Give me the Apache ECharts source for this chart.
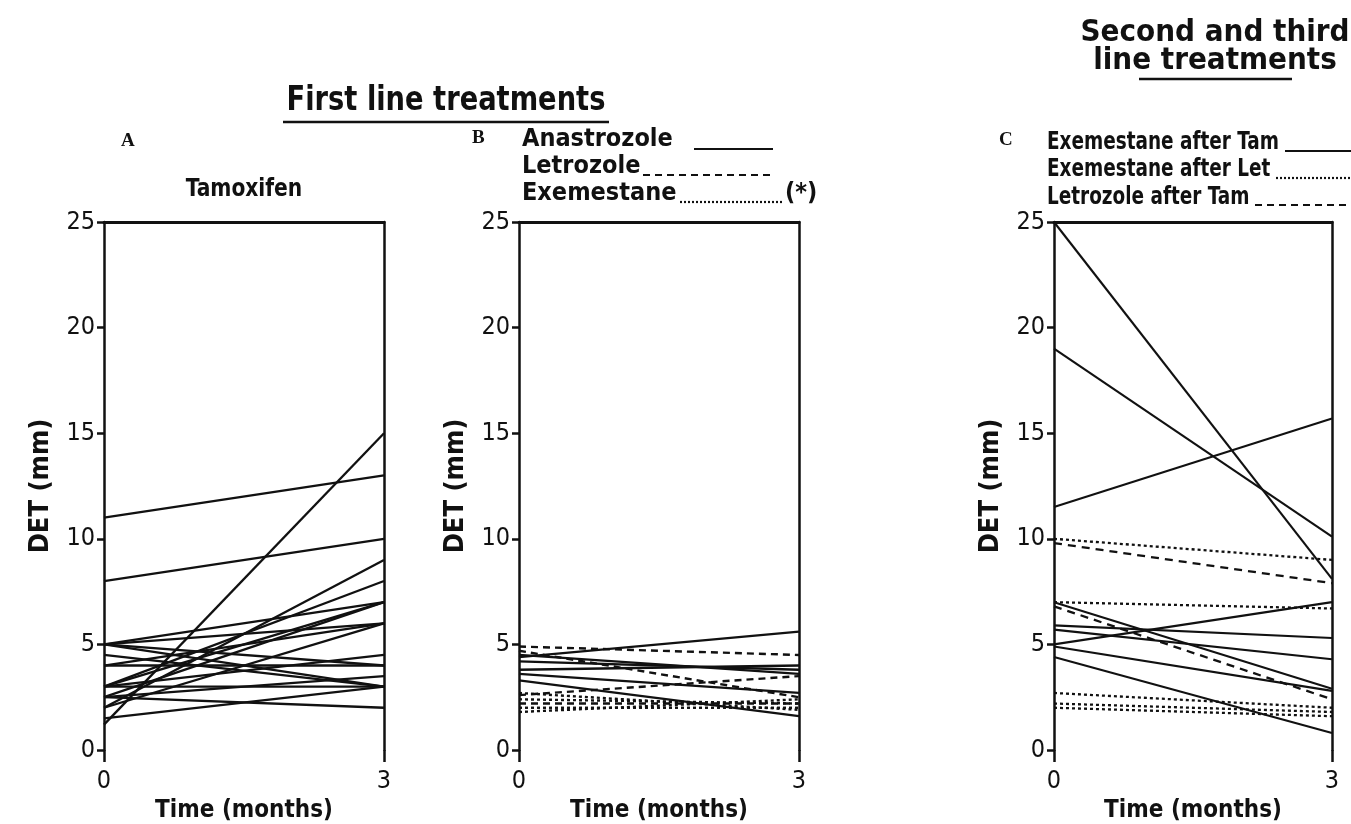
<!DOCTYPE html>
<html>
<head>
<meta charset="utf-8">
<script src="https://cdn.jsdelivr.net/npm/echarts@6/dist/echarts.min.js"></script>
<style>
  html, body { margin: 0; padding: 0; background: #fff; }
  #chart { width: 1351px; height: 824px; }
</style>
</head>
<body>
<div id="chart"></div>
<script>
// time points (months)
const months = [0, 3];
const yTicks = [0, 5, 10, 15, 20, 25];

// panel A - tamoxifen, DET at 0 and 3 months
const tamStart = [11, 8, 1.2, 2, 3, 5, 3, 2.5, 5, 4, 2, 5, 4.5, 3, 2.5, 3, 1.5, 2.5, 4, 5];
const tamEnd   = [13, 10, 15, 9, 8, 7, 7, 7, 6, 6, 6, 4, 3, 4.5, 3.5, 3, 3, 2, 4, 3];

// panel B - first line aromatase inhibitors
const anaStart = [4.4, 4.2, 4.5, 3.6, 3.3, 3.8];
const anaEnd   = [5.6, 3.8, 3.6, 2.7, 1.6, 4.0];
const letStart = [4.9, 4.7, 2.6, 2.2];
const letEnd   = [4.5, 2.5, 3.5, 2.2];
const exeStart = [2.4, 2.0, 1.8, 2.7];
const exeEnd   = [2.2, 2.0, 2.4, 1.9];

// panel C - second and third line
const exeTamStart = [25, 19, 11.5, 7.0, 5.9, 5.0, 5.7, 4.9, 4.4];
const exeTamEnd   = [8.1, 10.1, 15.7, 2.9, 5.3, 7.0, 4.3, 2.8, 0.8];
const exeLetStart = [10, 7.0, 2.7, 2.2, 2.0];
const exeLetEnd   = [9.0, 6.7, 2.0, 1.8, 1.6];
const letTamStart = [9.8, 6.8];
const letTamEnd   = [7.9, 2.4];

const FONT = "'DejaVu Sans Condensed', 'Liberation Sans Narrow', Arial, sans-serif";
const INK = "#111";

const grids = [
  { left: 104, top: 222, width: 280, height: 528, outerBoundsMode: "none" },
  { left: 519, top: 222, width: 280, height: 528, outerBoundsMode: "none" },
  { left: 1054, top: 222, width: 278, height: 528, outerBoundsMode: "none" }
];

const xAxis = [];
const yAxis = [];
grids.forEach(function (g, i) {
  xAxis.push({
    type: "value", gridIndex: i, min: 0, max: 3, interval: 3,
    name: "Time (months)", nameLocation: "middle", nameGap: 47,
    nameTextStyle: { fontFamily: FONT, fontSize: 24, fontWeight: "bold", color: INK },
    axisLine: { show: false, onZero: false },
    axisTick: { show: true, length: 12, lineStyle: { color: INK, width: 2.5 } },
    axisLabel: { fontFamily: FONT, fontSize: 25, color: INK, margin: 19 },
    splitLine: { show: false }
  });
  xAxis.push({
    type: "value", gridIndex: i, min: 0, max: 3, position: "top",
    axisLine: { show: true, onZero: false, lineStyle: { color: INK, width: 3 } },
    axisTick: { show: false }, axisLabel: { show: false }, splitLine: { show: false }
  });
  yAxis.push({
    type: "value", gridIndex: i, min: 0, max: 25, interval: 5,
    name: "DET (mm)", nameLocation: "middle", nameGap: 50,
    nameTextStyle: { fontFamily: FONT, fontSize: 27, fontWeight: "bold", color: INK },
    axisLine: { show: true, lineStyle: { color: INK, width: 2.5 } },
    axisTick: { show: true, length: 6, lineStyle: { color: INK, width: 2.5 } },
    axisLabel: { fontFamily: FONT, fontSize: 25, color: INK, margin: 9 },
    splitLine: { show: false }
  });
  yAxis.push({
    type: "value", gridIndex: i, min: 0, max: 25, interval: 5,
    axisLine: { show: false },
    axisTick: { show: true, inside: true, length: 7, lineStyle: { color: INK, width: 2.5 } },
    axisLabel: { show: false }, splitLine: { show: false }
  });
  yAxis.push({
    type: "value", gridIndex: i, min: 0, max: 25, position: "right",
    axisLine: { show: true, lineStyle: { color: INK, width: 2.5 } },
    axisTick: { show: false }, axisLabel: { show: false }, splitLine: { show: false }
  });
});

const series = [];
function addGroup(starts, ends, panel, dash, width) {
  starts.forEach(function (s, k) {
    series.push({
      type: "line", xAxisIndex: panel * 2, yAxisIndex: panel * 3,
      data: [[months[0], s], [months[1], ends[k]]],
      symbol: "none", silent: true, animation: false,
      lineStyle: { color: INK, width: width, type: dash }
    });
  });
}
addGroup(tamStart, tamEnd, 0, "solid", 2.3);
addGroup(anaStart, anaEnd, 1, "solid", 2.3);
addGroup(letStart, letEnd, 1, [7, 5], 2.4);
addGroup(exeStart, exeEnd, 1, [3, 3], 2.4);
addGroup(exeTamStart, exeTamEnd, 2, "solid", 2.1);
addGroup(exeLetStart, exeLetEnd, 2, [3, 3], 2.3);
addGroup(letTamStart, letTamEnd, 2, [8, 6], 2.3);

function txt(x, y, s, size, sx) {
  return {
    type: "text", x: x, y: y, scaleX: sx || 1,
    style: { text: s, fontFamily: FONT, fontSize: size, fontWeight: "bold", fill: INK,
             textVerticalAlign: "middle" }
  };
}
function seg(x1, y, x2, dash, w) {
  return {
    type: "line", shape: { x1: x1, y1: y, x2: x2, y2: y },
    style: { stroke: INK, lineWidth: w || 2, lineDash: dash || null }
  };
}
function letter(x, y, s) {
  return {
    type: "text", x: x, y: y,
    style: { text: s, fontFamily: "'Liberation Serif', serif", fontSize: 19, fontWeight: "bold",
             fill: INK, textVerticalAlign: "middle" }
  };
}
function heading(x, y, s, size, sx) {
  return {
    type: "text", x: x, y: y, scaleX: sx || 1,
    style: { text: s, fontFamily: FONT, fontSize: size, fontWeight: "bold", fill: INK,
             textAlign: "center", textVerticalAlign: "middle" }
  };
}

const graphic = [
  // group headings
  heading(446, 101, "First line treatments", 33, 0.92),
  seg(283, 122, 609, null, 2.5),
  heading(1215, 33, "Second and third", 31),
  heading(1215, 61, "line treatments", 31),
  seg(1139, 79, 1292, null, 2.5),
  letter(121, 141, "A"),
  letter(472, 138, "B"),
  letter(999, 140, "C"),
  heading(244, 189, "Tamoxifen", 25, 0.9),
  // legend B
  txt(522, 139, "Anastrozole", 25),
  seg(694, 149, 773, null, 2.2),
  txt(522, 166, "Letrozole", 25),
  seg(643, 175, 772, [7, 5], 2.2),
  txt(522, 193, "Exemestane", 25),
  seg(680, 202, 783, [2, 2], 2.2),
  txt(785, 193, "(*)", 25),
  // legend C
  txt(1047, 142, "Exemestane after Tam", 25, 0.82),
  seg(1285, 151, 1351, null, 2.2),
  txt(1047, 169, "Exemestane after Let", 25, 0.82),
  seg(1276, 178, 1351, [2, 2], 2.2),
  txt(1047, 197, "Letrozole after Tam", 25, 0.82),
  seg(1255, 205, 1351, [7, 5], 2.2)
];

const chart = echarts.init(document.getElementById("chart"));
chart.setOption({
  backgroundColor: "#fff",
  animation: false,
  grid: grids,
  xAxis: xAxis,
  yAxis: yAxis,
  series: series,
  graphic: graphic
});
</script>
</body>
</html>
